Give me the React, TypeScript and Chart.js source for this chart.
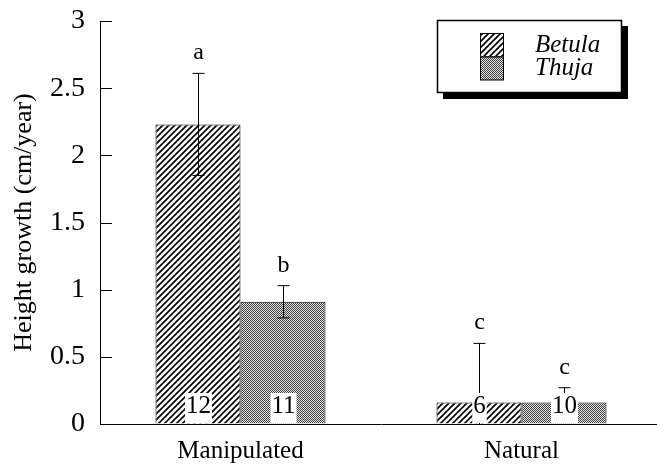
import React, { useEffect, useRef } from 'react';
import { Chart, registerables } from 'chart.js';

Chart.register(...registerables);

const categories = ['Manipulated', 'Natural'];
const seriesNames = ['Betula', 'Thuja'];
const betulaMean = [2.23, 0.16];
const betulaErr = [0.38, 0.44];
const thujaMean = [0.91, 0.16];
const thujaErr = [0.12, 0.11];
const betulaLetters = ['a', 'c'];
const thujaLetters = ['b', 'c'];
const betulaCounts = ['12', '6'];
const thujaCounts = ['11', '10'];
const yTickValues = [0, 0.5, 1, 1.5, 2, 2.5, 3];
const yTickLabels = ['0', '0.5', '1', '1.5', '2', '2.5', '3'];
const yTitle = 'Height growth (cm/year)';

const SERIF = "'Liberation Serif', 'Times New Roman', serif";

function makeHatch(): CanvasPattern | string {
  const c = document.createElement('canvas');
  c.width = 6;
  c.height = 6;
  const g = c.getContext('2d');
  if (!g) return '#888';
  g.fillStyle = '#fff';
  g.fillRect(0, 0, 6, 6);
  g.strokeStyle = '#000';
  g.lineWidth = 1.7;
  g.beginPath();
  g.moveTo(-1, 7);
  g.lineTo(7, -1);
  g.moveTo(-4, 4);
  g.lineTo(4, -4);
  g.moveTo(2, 10);
  g.lineTo(10, 2);
  g.stroke();
  return g.createPattern(c, 'repeat') || '#888';
}

function makeStipple(): CanvasPattern | string {
  const c = document.createElement('canvas');
  c.width = 2;
  c.height = 2;
  const g = c.getContext('2d');
  if (!g) return '#aaa';
  g.fillStyle = '#e0e0e0';
  g.fillRect(0, 0, 2, 2);
  g.fillStyle = '#444';
  g.fillRect(0, 0, 1, 1);
  g.fillRect(1, 1, 1, 1);
  return g.createPattern(c, 'repeat') || '#aaa';
}

const decorPlugin = {
  id: 'decor',
  afterDatasetsDraw(chart: any) {
    const ctx: CanvasRenderingContext2D = chart.ctx;
    const ys = chart.scales.y;
    const area = chart.chartArea;
    ctx.save();
    ctx.strokeStyle = '#000';
    ctx.lineWidth = 1;
    yTickValues.forEach((v) => {
      const py = Math.round(ys.getPixelForValue(v)) + 0.5;
      ctx.beginPath();
      ctx.moveTo(area.left, py);
      ctx.lineTo(area.left + 12, py);
      ctx.stroke();
    });
    chart.data.datasets.forEach((ds: any, di: number) => {
      const meta = chart.getDatasetMeta(di);
      meta.data.forEach((bar: any, i: number) => {
        const v = ds.data[i];
        const e = ds.errors[i];
        const x = Math.round(bar.x) + 0.5;
        const top = ys.getPixelForValue(v + e);
        const lowVal = v - e;
        const bot = ys.getPixelForValue(Math.max(0, lowVal));
        ctx.strokeStyle = '#000';
        ctx.lineWidth = 1;
        ctx.beginPath();
        ctx.moveTo(x, top);
        ctx.lineTo(x, bot);
        ctx.moveTo(x - 6, top);
        ctx.lineTo(x + 6, top);
        if (lowVal > 0) {
          ctx.moveTo(x - 6, bot);
          ctx.lineTo(x + 6, bot);
        }
        ctx.stroke();
        ctx.fillStyle = '#000';
        ctx.font = `24px ${SERIF}`;
        ctx.textAlign = 'center';
        ctx.textBaseline = 'alphabetic';
        ctx.fillText(ds.letters[i], x, top - 14);
        const base = ys.getPixelForValue(0);
        ctx.font = `25px ${SERIF}`;
        const w = ctx.measureText(ds.counts[i]).width + 2;
        ctx.fillStyle = '#fff';
        ctx.fillRect(x - w / 2, base - 31, w, 30);
        ctx.fillStyle = '#000';
        ctx.fillText(ds.counts[i], x, base - 11);
      });
    });
    ctx.restore();
  },
  afterDraw(chart: any) {
    const ctx: CanvasRenderingContext2D = chart.ctx;
    ctx.save();
    const bx = 437;
    const by = 20;
    const bw = 185;
    const bh = 73;
    ctx.fillStyle = '#000';
    ctx.fillRect(bx + 6, by + 6, bw, bh);
    ctx.fillStyle = '#fff';
    ctx.fillRect(bx, by, bw, bh);
    ctx.strokeStyle = '#000';
    ctx.lineWidth = 1.5;
    ctx.strokeRect(bx + 0.5, by + 0.5, bw - 1, bh - 1);
    chart.data.datasets.forEach((ds: any, di: number) => {
      const sy = 33 + di * 23.5;
      ctx.fillStyle = ds.backgroundColor;
      ctx.fillRect(480, sy, 24, 23.5);
      ctx.lineWidth = 1;
      ctx.strokeRect(480.5, sy + 0.5, 23, 23);
      ctx.fillStyle = '#000';
      ctx.font = `italic 25px ${SERIF}`;
      ctx.textAlign = 'left';
      ctx.textBaseline = 'alphabetic';
      ctx.fillText(ds.label, 535, 52 + di * 23);
    });
    ctx.restore();
  },
};

export default function App() {
  const ref = useRef<HTMLCanvasElement | null>(null);

  useEffect(() => {
    if (!ref.current) return;
    const hatch = makeHatch();
    const stipple = makeStipple();
    const chart = new Chart(ref.current, {
      type: 'bar',
      data: {
        labels: categories,
        datasets: [
          {
            label: seriesNames[0],
            data: betulaMean,
            errors: betulaErr,
            letters: betulaLetters,
            counts: betulaCounts,
            backgroundColor: hatch,
            borderColor: '#000',
            borderWidth: 1,
          } as any,
          {
            label: seriesNames[1],
            data: thujaMean,
            errors: thujaErr,
            letters: thujaLetters,
            counts: thujaCounts,
            backgroundColor: stipple,
            borderColor: '#000',
            borderWidth: 1,
          } as any,
        ],
      },
      options: {
        responsive: false,
        animation: false,
        devicePixelRatio: 1,
        layout: { padding: { top: 21, right: 18, bottom: 0, left: 0 } },
        datasets: { bar: { categoryPercentage: 0.605, barPercentage: 1 } },
        plugins: { legend: { display: false }, tooltip: { enabled: false } },
        scales: {
          x: {
            offset: true,
            grid: { display: true, drawOnChartArea: false, drawTicks: false },
            border: { display: true, color: '#000', width: 1 },
            ticks: { color: '#000', font: { family: SERIF, size: 25 }, padding: 12 },
            afterFit: (s: any) => {
              s.height = 42;
              s.paddingLeft = 0;
              s.paddingRight = 0;
            },
          },
          y: {
            min: 0,
            max: 3,
            afterBuildTicks: (s: any) => {
              s.ticks = yTickValues.map((v) => ({ value: v }));
            },
            grid: { display: true, drawOnChartArea: false, drawTicks: false },
            border: { display: true, color: '#000', width: 1 },
            ticks: {
              color: '#000',
              font: { family: SERIF, size: 28 },
              padding: 15,
              callback: (_v: any, i: number) => yTickLabels[i],
            },
            title: {
              display: true,
              text: yTitle,
              color: '#000',
              font: { family: SERIF, size: 26 },
              padding: { top: 9, bottom: 0 },
            },
            afterFit: (s: any) => {
              s.width = 100;
              s.paddingTop = 0;
              s.paddingBottom = 0;
            },
          },
        },
      } as any,
      plugins: [decorPlugin],
    });
    return () => chart.destroy();
  }, []);

  return (
    <div
      style={{
        position: 'absolute',
        left: 0,
        top: 0,
        width: 657,
        height: 466,
        overflow: 'hidden',
        background: '#fff',
      }}
    >
      <canvas ref={ref} width={680} height={466} style={{ display: 'block' }} />
    </div>
  );
}
